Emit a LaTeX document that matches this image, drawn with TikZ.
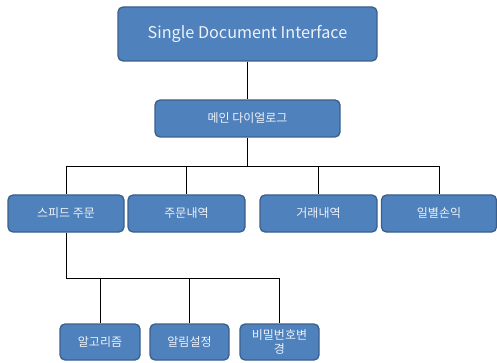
\documentclass[tikz,border=0pt]{standalone}
\usepackage{fontspec}
\setmainfont{Noto Sans CJK KR}
\begin{document}
\begin{tikzpicture}[x=1pt,y=-1pt,
  box/.style={draw=boxborder,fill=boxfill,line width=1.3pt,rounded corners=5pt,
    text=boxtext,inner sep=1pt,font=\fontsize{12}{14}\selectfont,align=center},
  conn/.style={draw=black,line width=0.9pt}]
\definecolor{boxfill}{HTML}{4F81BD}
\definecolor{boxborder}{HTML}{3A5F8C}
\definecolor{boxtext}{HTML}{EEF2F8}
\useasboundingbox (0,0) rectangle (497,363);
\node[box,minimum width=259pt,minimum height=54pt,font=\fontsize{16.2}{18}\selectfont] (top) at (247.5,34) {Single Document Interface};
\node[box,minimum width=185pt,minimum height=37pt] (main) at (247.5,118.5) {메인 다이얼로그};
\node[box,minimum width=116pt,minimum height=37pt] (b1) at (66,213.5) {스피드 주문};
\node[box,minimum width=117pt,minimum height=37pt] (b2) at (186.5,213.5) {주문내역};
\node[box,minimum width=117pt,minimum height=37pt] (b3) at (318.5,213.5) {거래내역};
\node[box,minimum width=115pt,minimum height=37pt] (b4) at (439,213.5) {일별손익};
\node[box,minimum width=80pt,minimum height=36pt] (c1) at (100,342) {알고리즘};
\node[box,minimum width=79pt,minimum height=36pt] (c2) at (189.5,342) {알림설정};
\node[box,minimum width=79pt,minimum height=36pt,text width=72pt,inner sep=0pt] (c3) at (279.5,342) {비밀번호변\\경};
\coordinate (bus) at (247.5,166);
\coordinate (bus2) at (66,278);
\draw[conn] (top.south) -- (main.north);
\draw[conn] (main.south) -- (main.south |- bus);
\draw[conn] (b1.north |- bus) -- (b4.north |- bus);
\foreach \n in {b1,b2,b3,b4} \draw[conn] (\n.north |- bus) -- (\n.north);
\draw[conn] (b1.south) -- (b1.south |- bus2) -- (c3.north |- bus2);
\foreach \n in {c1,c2,c3} \draw[conn] (\n.north |- bus2) -- (\n.north);
\end{tikzpicture}
\end{document}
